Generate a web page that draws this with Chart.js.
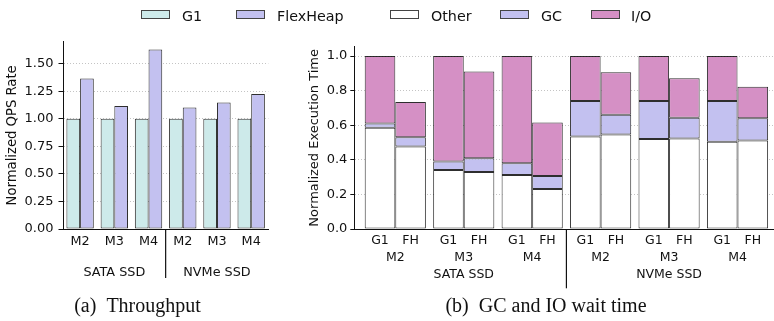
<!DOCTYPE html>
<html>
<head>
<meta charset="utf-8">
<script src="https://cdn.jsdelivr.net/npm/chart.js@4/dist/chart.umd.min.js"></script>
<style>
html,body{margin:0;padding:0;background:#fff;}
body{width:774px;height:321px;position:relative;overflow:hidden;font-family:"DejaVu Sans",sans-serif;}
#c1{position:absolute;left:0;top:0;}
#c2{position:absolute;left:290px;top:0;}
.lg-box{position:absolute;top:10px;width:29px;height:9px;border:1px solid #444;box-sizing:border-box;}
.lg-txt{position:absolute;top:7px;font-size:14.3px;line-height:18px;color:#111;white-space:nowrap;}
.cap{position:absolute;top:295px;font-family:"Liberation Serif",serif;font-size:20px;line-height:20px;color:#111;white-space:nowrap;transform:translateX(-50%);}
</style>
</head>
<body>
<canvas id="c1" width="290" height="321"></canvas>
<canvas id="c2" width="484" height="321"></canvas>
<div id="legend"></div>
<div class="cap" style="left:137.5px">(a)&nbsp;&nbsp;Throughput</div>
<div class="cap" style="left:546px">(b)&nbsp;&nbsp;GC and IO wait time</div>
<script>
// ---- data ----
const groups = ['M2', 'M3', 'M4', 'M2', 'M3', 'M4'];
const devices = ['SATA SSD', 'NVMe SSD'];
const qpsG1 = [1.0, 1.0, 1.0, 1.0, 1.0, 1.0];
const qpsFlexHeap = [1.365, 1.117, 1.63, 1.102, 1.148, 1.226];
const qpsTicks = [0, 0.25, 0.5, 0.75, 1.0, 1.25, 1.5];

const gcNames = ['G1', 'FH'];
const otherG1 = [0.585, 0.341, 0.312, 0.535, 0.521, 0.504];
const gcG1    = [0.025, 0.049, 0.068, 0.205, 0.219, 0.236];
const ioG1    = [0.390, 0.610, 0.620, 0.260, 0.260, 0.260];
const otherFH = [0.477, 0.330, 0.231, 0.547, 0.523, 0.512];
const gcFH    = [0.054, 0.079, 0.075, 0.114, 0.120, 0.128];
const ioFH    = [0.203, 0.502, 0.310, 0.246, 0.229, 0.182];
const timeTicks = [0, 0.2, 0.4, 0.6, 0.8, 1.0];

const legendNames = ['G1', 'FlexHeap', 'Other', 'GC', 'I/O'];

// ---- styles ----
const colG1 = '#cdeaea';
const colFH = '#c3c1f0';
const colOther = '#ffffff';
const colGC = '#c3c1f0';
const colIO = '#d590c5';
const edge = 'rgba(0,0,0,0.82)';
const txt = '#111';
const legendColors = [colG1, colFH, colOther, colGC, colIO];
const legendBoxX = [141, 236, 390, 500, 591];
const legendTxtX = [182, 277, 431, 541, 631];

const lg = document.getElementById('legend');
legendNames.forEach((n, i) => {
  const b = document.createElement('div');
  b.className = 'lg-box';
  b.style.left = legendBoxX[i] + 'px';
  b.style.background = legendColors[i];
  lg.appendChild(b);
  const t = document.createElement('div');
  t.className = 'lg-txt';
  t.style.left = legendTxtX[i] + 'px';
  t.textContent = n;
  lg.appendChild(t);
});

Chart.defaults.font.family = '"DejaVu Sans", sans-serif';
Chart.defaults.color = txt;

function sepPlugin(bottomY, xFn) {
  return {
    id: 'sep',
    afterDraw(chart) {
      const ctx = chart.ctx;
      const x = xFn(chart);
      ctx.save();
      ctx.strokeStyle = txt;
      ctx.lineWidth = 1.2;
      ctx.beginPath();
      ctx.moveTo(x, chart.chartArea.bottom);
      ctx.lineTo(x, bottomY);
      ctx.stroke();
      ctx.restore();
    }
  };
}

// ---- left chart ----
const leftLabels = groups.map((g, i) => (i % 3 === 1 ? [g, devices[Math.floor(i / 3)]] : [g]));
new Chart(document.getElementById('c1'), {
  type: 'bar',
  data: {
    labels: leftLabels,
    datasets: [
      { label: legendNames[0], data: qpsG1, backgroundColor: colG1, borderColor: edge, borderWidth: 1, borderSkipped: false },
      { label: legendNames[1], data: qpsFlexHeap, backgroundColor: colFH, borderColor: edge, borderWidth: 1, borderSkipped: false }
    ]
  },
  options: {
    responsive: false, animation: false, devicePixelRatio: 1,
    layout: { padding: { left: 0, right: 21.7, top: 41.7, bottom: 0 } },
    plugins: { legend: { display: false }, tooltip: { enabled: false } },
    datasets: { bar: { categoryPercentage: 0.8, barPercentage: 1 } },
    scales: {
      x: {
        grid: { display: false, drawTicks: false },
        border: { display: true, color: txt, width: 1 },
        ticks: { autoSkip: false, maxRotation: 0, minRotation: 0, padding: -2.9, color: txt, font: { size: 12.8, lineHeight: 2.41 } },
        afterFit(s) { s.height = 92; s.paddingLeft = 0; s.paddingRight = 0; }
      },
      y: {
        min: 0, max: 1.70,
        afterBuildTicks(s) { s.ticks = qpsTicks.map(v => ({ value: v })); },
        ticks: { callback: v => v.toFixed(2), padding: 5, color: txt, font: { size: 13 } },
        grid: { color: '#b5b5b5', lineWidth: 0.8, drawTicks: true, tickLength: 4.5, tickColor: txt, tickWidth: 1 },
        border: { display: true, color: txt, width: 1, dash: [1, 2] },
        title: { display: true, text: 'Normalized QPS Rate', color: txt, font: { size: 13.2 }, padding: { top: 5, bottom: 0 } },
        afterFit(s) { s.width = 63; }
      }
    }
  },
  plugins: [sepPlugin(278, c => (c.scales.x.getPixelForValue(2) + c.scales.x.getPixelForValue(3)) / 2)]
});

// ---- right chart ----
const h = 0.2234;
const xTicks = [];
const xTickLabels = [];
groups.forEach((g, i) => {
  xTicks.push(i - h, i, i + h);
  xTickLabels.push(gcNames[0], i % 3 === 1 ? ['', g, devices[Math.floor(i / 3)]] : ['', g], gcNames[1]);
});
const pairs = (a, b) => a.flatMap((v, i) => [{ x: i - h, y: v }, { x: i + h, y: b[i] }]);

new Chart(document.getElementById('c2'), {
  type: 'bar',
  data: {
    datasets: [
      { label: legendNames[2], data: pairs(otherG1, otherFH), backgroundColor: colOther, borderColor: edge, borderWidth: 1, borderSkipped: false, stack: 's' },
      { label: legendNames[3], data: pairs(gcG1, gcFH), backgroundColor: colGC, borderColor: edge, borderWidth: 1, borderSkipped: false, stack: 's' },
      { label: legendNames[4], data: pairs(ioG1, ioFH), backgroundColor: colIO, borderColor: edge, borderWidth: 1, borderSkipped: false, stack: 's' }
    ]
  },
  options: {
    responsive: false, animation: false, devicePixelRatio: 1,
    layout: { padding: { left: 0, right: 0, top: 46.7, bottom: 0 } },
    plugins: { legend: { display: false }, tooltip: { enabled: false } },
    datasets: { bar: { categoryPercentage: 2, barPercentage: 1 } },
    scales: {
      x: {
        type: 'linear', min: -0.599, max: 5.533, bounds: 'data', offset: false,
        afterBuildTicks(s) { s.ticks = xTicks.map(v => ({ value: v })); },
        grid: { display: false, drawTicks: false, offset: false },
        border: { display: true, color: txt, width: 1 },
        ticks: { autoSkip: false, maxRotation: 0, minRotation: 0, padding: 2.6, color: txt, font: { size: 12.5, lineHeight: 1.388 },
                 callback: (v, idx) => xTickLabels[idx] },
        afterFit(s) { s.height = 92; s.paddingLeft = 0; s.paddingRight = 0; }
      },
      y: {
        stacked: true, min: 0, max: 1.054,
        afterBuildTicks(s) { s.ticks = timeTicks.map(v => ({ value: v })); },
        ticks: { callback: v => v.toFixed(1), padding: 3, color: txt, font: { size: 13 } },
        grid: { color: '#b5b5b5', lineWidth: 0.8, drawTicks: true, tickLength: 4, tickColor: txt, tickWidth: 1 },
        border: { display: true, color: txt, width: 1, dash: [1, 2] },
        title: { display: true, text: 'Normalized Execution Time', color: txt, font: { size: 13 }, padding: { top: 17.2, bottom: 0 } },
        afterFit(s) { s.width = 64.3; }
      }
    }
  },
  plugins: [sepPlugin(288.3, c => c.scales.x.getPixelForValue(2.5))]
});
</script>
</body>
</html>
